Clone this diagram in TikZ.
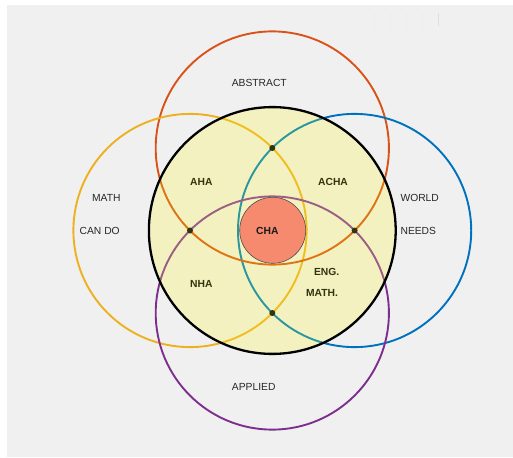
\documentclass[tikz,border=0pt]{standalone}
\usepackage{fontspec}
\setmainfont{Liberation Sans}
\definecolor{bg}{HTML}{F0F0F0}
\definecolor{cred}{HTML}{D95319}
\definecolor{cyel}{HTML}{EDB120}
\definecolor{cblu}{HTML}{0072BD}
\definecolor{cpur}{HTML}{7E2F8E}
\definecolor{ired}{HTML}{DE7414}
\definecolor{iyel}{HTML}{F0BE1E}
\definecolor{iblu}{HTML}{2A969E}
\definecolor{ipur}{HTML}{9A5F82}
\definecolor{pale}{HTML}{F3F1C0}
\definecolor{salmon}{HTML}{F58A6E}
\definecolor{olive}{HTML}{33330F}
\begin{document}
\begin{tikzpicture}[x=1pt,y=-1pt,
  ring/.style={line width=1.9pt},
  lab/.style={font=\fontsize{10.3}{12}\selectfont, text=black!85, inner sep=0pt},
  blab/.style={font=\fontsize{10.3}{12}\selectfont\bfseries, text=olive, inner sep=0pt},
  ctr/.style={circle, fill=olive, inner sep=0pt, minimum size=6pt}]
\useasboundingbox (0,0) rectangle (513,457);
\fill[white] (0,0) rectangle (513,457);
\fill[bg] (7,5) rectangle (513,457);
% faint marks
\foreach \x in {374,390,406,422} \draw[black!8, line width=0.6pt, dash pattern=on 2pt off 1pt] (\x,14) -- (\x,32);
\draw[black!12, line width=0.6pt] (438,13) -- (438,26);
% coordinates
\coordinate (O) at (272.3,230.5);
\coordinate (T) at (272.3,148);
\coordinate (L) at (190,230.5);
\coordinate (R) at (354.6,230.5);
\coordinate (B) at (272.3,313);
% colored rings
\draw[ring, cred] (T) circle (116.6);
\draw[ring, cyel] (L) circle (116.6);
\draw[ring, cblu] (R) circle (116.6);
\draw[ring, cpur] (B) circle (116.6);
% centre disc
\fill[pale] (O) circle (123.4);
\begin{scope}
  \clip (O) circle (123.4);
  \draw[ring, iyel] (L) circle (116.6);
  \draw[ring, iblu] (R) circle (116.6);
  \draw[ring, ired] (T) circle (116.6);
  \draw[ring, ipur] (B) circle (116.6);
\end{scope}
\draw[line width=2.3pt, black] (O) circle (123.4);
% CHA disc
\node[circle, draw=black!70, line width=0.6pt, fill=salmon, minimum size=66pt, inner sep=0pt] (cha) at (272.7,230.3) {};
% centre dots
\node[ctr] (dT) at (T) {};
\node[ctr] (dL) at (L) {};
\node[ctr] (dR) at (R) {};
\node[ctr] (dB) at (B) {};
% labels
\node[lab] (abs) at (259.3,82.7) {ABSTRACT};
\node[lab] (math) at (106.3,197.7) {MATH};
\node[lab] (cando) at (99.7,230.7) {CAN DO};
\node[lab] (world) at (419.7,197.7) {WORLD};
\node[lab] (needs) at (418.3,230.7) {NEEDS};
\node[lab] (app) at (253.7,387) {APPLIED};
\node[blab] (aha) at (201.3,181.7) {AHA};
\node[blab] (acha) at (333,181.7) {ACHA};
\node[blab, text=black!90] (chat) at (267.3,230.7) {CHA};
\node[blab] (nha) at (201.3,284.3) {NHA};
\node[blab] (eng) at (326.7,271.7) {ENG.};
\node[blab] (mth) at (322,292.7) {MATH.};
\end{tikzpicture}
\end{document}
